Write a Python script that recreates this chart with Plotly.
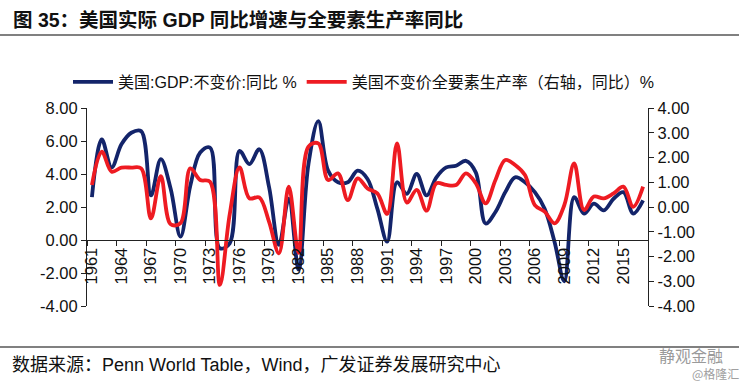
import plotly.graph_objects as go

years = list(range(1961, 2018))
gdp_yoy = [2.6, 6.1, 4.4, 5.8, 6.5, 6.6, 2.7, 4.9, 3.1, 0.2,
           3.3, 5.3, 5.6, -0.5, -0.2, 5.4, 4.6, 5.5, 3.2, -0.3,
           2.5, -1.8, 4.6, 7.2, 4.2, 3.5, 3.5, 4.2, 3.7, 1.9,
           -0.1, 3.5, 2.8, 4.0, 2.7, 3.8, 4.4, 4.5, 4.8, 4.1,
           1.0, 1.7, 2.9, 3.8, 3.5, 2.9, 1.9, -0.1, -2.5, 2.6,
           1.6, 2.2, 1.8, 2.5, 2.9, 1.6, 2.4]
tfp_yoy = [0.89, 2.24, 1.43, 1.59, 1.59, 1.56, -0.46, 1.25, -0.70, -0.65,
           1.56, 1.09, 1.02, -3.15, -0.30, 1.60, 0.35, 0.39, -0.60, -1.87,
           0.82, -1.85, 2.44, 2.57, 1.09, 1.36, 0.28, 1.16, 0.75, 0.55,
           -0.28, 2.57, 0.18, 0.69, -0.15, 0.96, 0.89, 0.89, 1.36, 0.96,
           0.15, 1.09, 1.90, 1.70, 1.29, 0.08, -0.19, -0.66, 0.08, 1.76,
           -0.12, 0.42, 0.35, 0.55, 0.82, 0.01, 0.82]
x_tick_years = list(range(1961, 2018, 3))
left_ticks = [8, 6, 4, 2, 0, -2, -4]
right_ticks = [4, 3, 2, 1, 0, -1, -2, -3, -4]

name_gdp = "美国:GDP:不变价:同比 %"
name_tfp = "美国不变价全要素生产率（右轴，同比）%"
title_text = "<b>图 35：美国实际 GDP 同比增速与全要素生产率同比</b>"
source_text = "数据来源：Penn World Table，Wind，广发证券发展研究中心"

NAVY = "#13246a"
RED = "#ee1b22"
FONT = "Liberation Sans, Arial, Noto Sans CJK SC, sans-serif"

W, H = 752, 391
L, R, T, B = 87, 104, 108, 85
pw, ph = W - L - R, H - T - B


def px_x(x):
    return (x - L) / pw


def px_y(y):
    return 1 - (y - T) / ph


fig = go.Figure()
fig.add_trace(go.Scatter(x=years, y=gdp_yoy, name=name_gdp, mode="lines",
                         line=dict(color=NAVY, width=3.8, shape="spline", smoothing=1.0),
                         yaxis="y"))
fig.add_trace(go.Scatter(x=years, y=tfp_yoy, name=name_tfp, mode="lines",
                         line=dict(color=RED, width=3.8, shape="spline", smoothing=1.0),
                         yaxis="y2"))

fig.update_layout(
    width=W, height=H,
    margin=dict(l=L, r=R, t=T, b=B, pad=0, autoexpand=False),
    paper_bgcolor="white", plot_bgcolor="white",
    font=dict(family=FONT, size=15, color="#111111"),
    showlegend=True,
    legend=dict(orientation="h", x=px_x(68), xanchor="left", y=px_y(82), yanchor="middle",
                font=dict(size=16, family=FONT),
                bgcolor="rgba(0,0,0,0)", itemwidth=40, tracegroupgap=0),
    xaxis=dict(range=[1960.5, 2017.5], anchor="free", position=1/3,
               tickmode="array", tickvals=x_tick_years, ticktext=[str(v) for v in x_tick_years],
               tickangle=-90, ticks="", showgrid=False, zeroline=False,
               showline=True, linecolor="#222222", linewidth=1.2,
               tickfont=dict(size=16.5),
               minor=dict(tickmode="array", tickvals=[v - 0.5 for v in x_tick_years],
                          ticks="outside", ticklen=5, tickcolor="#222222", tickwidth=1.2)),
    yaxis=dict(range=[-4, 8], tickmode="array", tickvals=left_ticks,
               ticktext=[f"{v:.2f}" for v in left_ticks],
               ticks="outside", ticklen=5, tickcolor="#222222", tickwidth=1.2,
               showline=True, linecolor="#222222", linewidth=1.2,
               showgrid=False, zeroline=False, tickfont=dict(size=16.5)),
    yaxis2=dict(range=[-4, 4], overlaying="y", side="right", tickmode="array",
                tickvals=right_ticks, ticktext=[f"{v:.2f}" for v in right_ticks],
                ticks="outside", ticklen=5, tickcolor="#222222", tickwidth=1.2,
                showline=True, linecolor="#222222", linewidth=1.2,
                showgrid=False, zeroline=False, tickfont=dict(size=16.5)),
)

# title and rules
fig.add_annotation(text=title_text, xref="paper", yref="paper", x=px_x(11), y=px_y(20),
                   xanchor="left", yanchor="middle", showarrow=False,
                   font=dict(size=19.5, family="Liberation Sans, Noto Sans CJK SC", color="#111111"))
fig.add_shape(type="line", xref="paper", yref="paper", x0=px_x(0), x1=px_x(739),
              y0=px_y(35), y1=px_y(35), line=dict(color="#808080", width=2))
fig.add_shape(type="line", xref="paper", yref="paper", x0=px_x(0), x1=px_x(739),
              y0=px_y(347), y1=px_y(347), line=dict(color="#808080", width=2))

fig.add_annotation(text=source_text, xref="paper", yref="paper", x=px_x(10), y=px_y(365),
                   xanchor="left", yanchor="middle", showarrow=False,
                   font=dict(size=18, family=FONT, color="#111111"))
fig.add_annotation(text="静观金融", xref="paper", yref="paper", x=px_x(691), y=px_y(355),
                   xanchor="center", yanchor="middle", showarrow=False,
                   font=dict(size=16, family="Noto Sans CJK SC", color="#9a9a9a"))
fig.add_annotation(text="@格隆汇", xref="paper", yref="paper", x=px_x(716), y=px_y(373),
                   xanchor="center", yanchor="middle", showarrow=False,
                   font=dict(size=12, family="Noto Sans CJK SC", color="#a0a0a0"))

fig.write_html("out.html", config={"displayModeBar": False},
               post_script="document.body.style.margin='0';")
